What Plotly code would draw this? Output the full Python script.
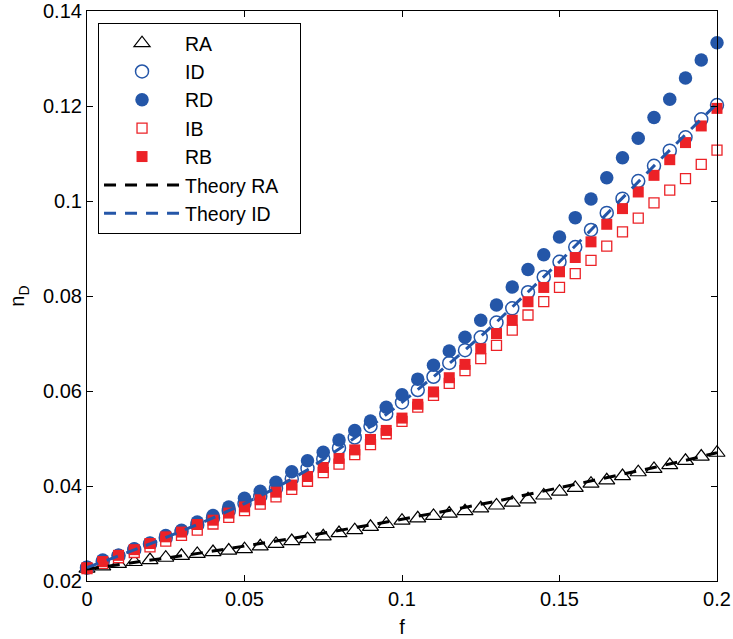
import plotly.graph_objects as go

f_vals = [0.000, 0.005, 0.010, 0.015, 0.020, 0.025, 0.030, 0.035, 0.040, 0.045,
          0.050, 0.055, 0.060, 0.065, 0.070, 0.075, 0.080, 0.085, 0.090, 0.095,
          0.100, 0.105, 0.110, 0.115, 0.120, 0.125, 0.130, 0.135, 0.140, 0.145,
          0.150, 0.155, 0.160, 0.165, 0.170, 0.175, 0.180, 0.185, 0.190, 0.195, 0.200]

RA = [0.0226, 0.0231, 0.0236, 0.0240, 0.0244, 0.0249, 0.0253, 0.0257, 0.0261, 0.0264,
      0.0267, 0.0273, 0.0278, 0.0284, 0.0288, 0.0294, 0.0301, 0.0307, 0.0314, 0.0320,
      0.0327, 0.0332, 0.0337, 0.0342, 0.0347, 0.0353, 0.0359, 0.0365, 0.0372, 0.0380,
      0.0388, 0.0396, 0.0405, 0.0412, 0.0421, 0.0429, 0.0436, 0.0444, 0.0453, 0.0462, 0.0470]

ID = [0.0228, 0.0241, 0.0253, 0.0266, 0.0278, 0.0291, 0.0304, 0.0318, 0.0333, 0.0348,
      0.0363, 0.0378, 0.0395, 0.0415, 0.0437, 0.0457, 0.0480, 0.0502, 0.0526, 0.0552,
      0.0576, 0.0602, 0.0630, 0.0659, 0.0686, 0.0713, 0.0744, 0.0774, 0.0808, 0.0840,
      0.0872, 0.0903, 0.0939, 0.0975, 0.1005, 0.1042, 0.1074, 0.1106, 0.1134, 0.1172, 0.1202]

RD = [0.0229, 0.0244, 0.0254, 0.0268, 0.0280, 0.0296, 0.0307, 0.0324, 0.0338, 0.0356,
      0.0374, 0.0389, 0.0408, 0.0430, 0.0453, 0.0471, 0.0497, 0.0517, 0.0537, 0.0566,
      0.0592, 0.0625, 0.0654, 0.0684, 0.0713, 0.0749, 0.0781, 0.0819, 0.0856, 0.0887,
      0.0924, 0.0965, 0.1004, 0.1049, 0.1091, 0.1132, 0.1176, 0.1214, 0.1259, 0.1297, 0.1333]

IB = [0.0226, 0.0237, 0.0249, 0.0260, 0.0272, 0.0284, 0.0296, 0.0307, 0.0320, 0.0334,
      0.0348, 0.0362, 0.0377, 0.0393, 0.0410, 0.0428, 0.0446, 0.0466, 0.0487, 0.0510,
      0.0536, 0.0566, 0.0591, 0.0616, 0.0643, 0.0668, 0.0696, 0.0728, 0.0760, 0.0788,
      0.0818, 0.0847, 0.0875, 0.0905, 0.0935, 0.0964, 0.0996, 0.1023, 0.1047, 0.1077, 0.1107]

RB = [0.0228, 0.0241, 0.0254, 0.0266, 0.0279, 0.0293, 0.0303, 0.0319, 0.0328, 0.0343,
      0.0356, 0.0371, 0.0387, 0.0402, 0.0420, 0.0439, 0.0458, 0.0476, 0.0498, 0.0517,
      0.0543, 0.0572, 0.0598, 0.0628, 0.0656, 0.0689, 0.0721, 0.0749, 0.0788, 0.0818,
      0.0851, 0.0881, 0.0914, 0.0951, 0.0984, 0.1019, 0.1054, 0.1087, 0.1123, 0.1158, 0.1195]

f_theory = [0.00, 0.01, 0.02, 0.03, 0.04, 0.05, 0.06, 0.07, 0.08, 0.09, 0.10,
            0.11, 0.12, 0.13, 0.14, 0.15, 0.16, 0.17, 0.18, 0.19, 0.20]
theory_RA = [0.0225, 0.0234, 0.0243, 0.0253, 0.0263, 0.0273, 0.0284, 0.0295, 0.0306, 0.0318, 0.0330,
             0.0342, 0.0355, 0.0368, 0.0382, 0.0396, 0.0410, 0.0424, 0.0439, 0.0454, 0.0470]
theory_ID = [0.0228, 0.0253, 0.0278, 0.0305, 0.0333, 0.0363, 0.0396, 0.0434, 0.0478, 0.0525, 0.0576,
             0.0630, 0.0686, 0.0745, 0.0808, 0.0872, 0.0939, 0.1007, 0.1074, 0.1140, 0.1205]

x_ticks = [0, 0.05, 0.1, 0.15, 0.2]
x_ticklabels = ["0", "0.05", "0.1", "0.15", "0.2"]
y_ticks = [0.02, 0.04, 0.06, 0.08, 0.1, 0.12, 0.14]
y_ticklabels = ["0.02", "0.04", "0.06", "0.08", "0.1", "0.12", "0.14"]

BLUE = "#2456a8"
RED = "#ec2227"
FONT = "Liberation Sans, Arial, Helvetica, sans-serif"
NB = "\u00a0"

fig = go.Figure()

fig.add_trace(go.Scatter(x=f_vals, y=RA, mode="markers", name="RA", legendrank=1,
                         marker=dict(symbol="triangle-up", size=14, color="white",
                                     line=dict(color="black", width=1.2))))
fig.add_trace(go.Scatter(x=f_vals, y=ID, mode="markers", name="ID", legendrank=2,
                         marker=dict(symbol="circle", size=13, color="white",
                                     line=dict(color=BLUE, width=1.5))))
fig.add_trace(go.Scatter(x=f_vals, y=RD, mode="markers", name="RD", legendrank=3,
                         marker=dict(symbol="circle", size=13.5, color=BLUE,
                                     line=dict(color=BLUE, width=0))))
fig.add_trace(go.Scatter(x=f_vals, y=IB, mode="markers", name="IB", legendrank=4,
                         marker=dict(symbol="square", size=10, color="white",
                                     line=dict(color=RED, width=1.3))))
fig.add_trace(go.Scatter(x=f_vals, y=RB, mode="markers", name="RB", legendrank=5,
                         marker=dict(symbol="square", size=11, color=RED,
                                     line=dict(color=RED, width=0))))
fig.add_trace(go.Scatter(x=f_theory, y=theory_RA, mode="lines", name="Theory RA" + NB * 3, legendrank=6,
                         line=dict(color="black", width=3, dash="12px,9px")))
fig.add_trace(go.Scatter(x=f_theory, y=theory_ID, mode="lines", name="Theory ID", legendrank=7,
                         line=dict(color=BLUE, width=3, dash="12px,9px")))

fig.update_traces(cliponaxis=False)

axis_common = dict(
    showline=True, linecolor="black", linewidth=1.2, mirror="ticks",
    ticks="inside", ticklen=6, tickwidth=1.2, tickcolor="black",
    showgrid=False, zeroline=False, automargin=False,
    tickfont=dict(family=FONT, size=20, color="black"),
)

fig.update_xaxes(range=[0, 0.2], tickvals=x_ticks, ticktext=x_ticklabels,
                 title=dict(text="f", font=dict(family=FONT, size=20, color="black"), standoff=10),
                 **axis_common)
fig.update_yaxes(range=[0.02, 0.14], tickvals=y_ticks, ticktext=y_ticklabels,
                 title=dict(text="n<sub>D</sub>", font=dict(family=FONT, size=20, color="black"), standoff=12),
                 **axis_common)

fig.update_layout(
    width=733, height=639,
    margin=dict(l=87, r=16, t=11, b=58),
    paper_bgcolor="white", plot_bgcolor="white",
    font=dict(family=FONT, size=20, color="black"),
    legend=dict(x=0.0175, y=0.979, xanchor="left", yanchor="top",
                bgcolor="white", bordercolor="black", borderwidth=1,
                font=dict(family=FONT, size=19.5, color="black"),
                itemwidth=76, tracegroupgap=0),
    showlegend=True,
)

fig.write_html("out.html",
               config={"displayModeBar": False},
               post_script="document.body.style.margin='0';document.body.style.overflow='hidden';")
